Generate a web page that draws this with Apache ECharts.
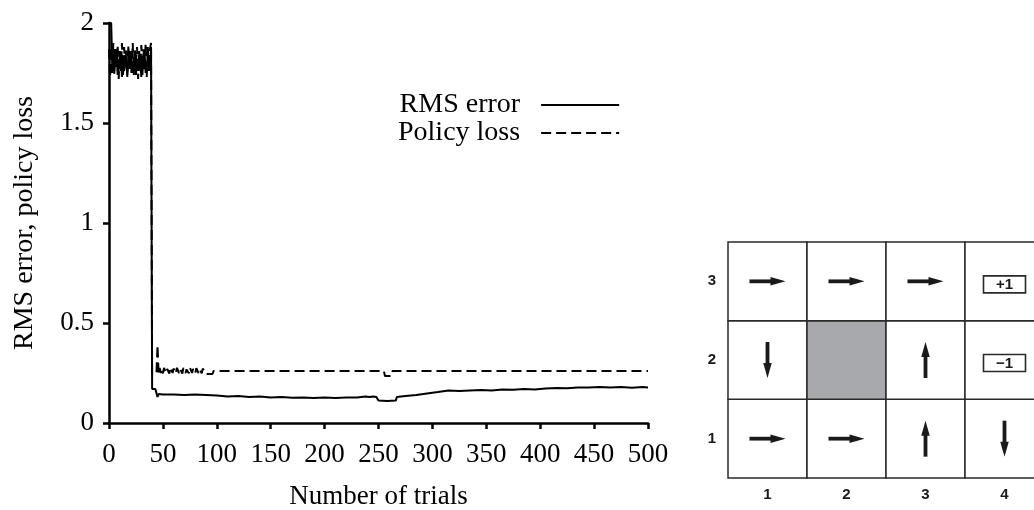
<!DOCTYPE html>
<html>
<head>
<meta charset="utf-8">
<script src="https://cdn.jsdelivr.net/npm/echarts@6/dist/echarts.min.js"></script>
<style>
html,body{margin:0;padding:0;background:#fff;}
#chart{width:1034px;height:510px;}
</style>
</head>
<body>
<div id="chart"></div>
<script>
// ---- learning curve data ----
const rmsTrials = [0,1,2,3,4,5,6,7,8,9,10,11,12,13,14,15,16,17,18,19,20,21,22,23,24,25,26,27,28,29,30,31,32,33,34,35,36,37,38,39,
  40,43,44,45,46,50,60,70,80,90,100,110,120,130,140,150,160,170,180,190,200,210,220,230,238,242,245,248,250,258,266,267,275,285,295,305,315,325,335,345,355,365,375,385,395,405,415,425,435,445,455,465,475,485,495,500];
const rmsValues = [2.0,2.0,2.0,1.80,1.76,1.84,1.78,1.86,1.74,1.82,1.77,1.85,1.73,1.80,1.76,1.84,1.79,1.74,1.83,1.77,1.86,1.75,1.81,1.78,1.85,1.74,1.82,1.76,1.84,1.79,1.73,1.81,1.77,1.85,1.75,1.80,1.78,1.84,1.76,1.88,
  0.17,0.17,0.18,0.13,0.145,0.142,0.143,0.14,0.142,0.14,0.138,0.132,0.135,0.13,0.133,0.128,0.13,0.126,0.128,0.125,0.127,0.125,0.128,0.127,0.132,0.13,0.133,0.13,0.112,0.11,0.112,0.13,0.135,0.14,0.148,0.155,0.163,0.16,0.163,0.165,0.162,0.168,0.166,0.17,0.168,0.172,0.175,0.174,0.178,0.177,0.18,0.178,0.18,0.176,0.18,0.178];

const lossTrials = [0,1,2,3,4,5,6,7,8,9,10,11,12,13,14,15,16,17,18,19,20,21,22,23,24,25,26,27,28,29,30,31,32,33,34,35,36,37,38,39,
  40,42,44,45,46,47,48,49,50,51,53,54,56,57,59,60,62,63,65,66,68,69,71,72,74,75,77,78,80,81,83,84,86,87,90,96,97,255,256,262,263,500];
const lossValues = [1.87,1.73,1.88,1.75,1.90,1.74,1.87,1.79,1.89,1.72,1.86,1.76,1.90,1.74,1.88,1.78,1.87,1.73,1.89,1.77,1.86,1.75,1.90,1.74,1.87,1.79,1.88,1.72,1.86,1.76,1.89,1.74,1.87,1.78,1.90,1.73,1.88,1.76,1.87,1.90,
  0.245,0.245,0.245,0.39,0.245,0.275,0.25,0.27,0.248,0.275,0.25,0.27,0.247,0.278,0.25,0.272,0.248,0.276,0.25,0.27,0.247,0.275,0.25,0.268,0.248,0.277,0.25,0.27,0.248,0.274,0.25,0.268,0.248,0.272,0.245,0.245,0.26,0.26,0.235,0.235,0.26,0.26];

// ---- grid world data ----
const gridCols = ['1','2','3','4'];
const gridRows = ['1','2','3'];
// [column index, row index, direction]
const policyArrows = [
  [0,2,'right'],[1,2,'right'],[2,2,'right'],
  [0,1,'down'],[2,1,'up'],
  [0,0,'right'],[1,0,'right'],[2,0,'up'],[3,0,'down']
];
const wallCells = [[1,1]];
const terminalCells = [[3,2,'+1'],[3,1,'\u22121']];

const rmsData = rmsTrials.map((t,i)=>[t,rmsValues[i]]);
const lossData = lossTrials.map((t,i)=>[t,lossValues[i]]);
const allCells = [];
for (let c=0;c<gridCols.length;c++) for (let r=0;r<gridRows.length;r++) {
  const wall = wallCells.some(w=>w[0]===c&&w[1]===r);
  allCells.push([c,r,wall?1:0]);
}

const serif = 'Liberation Serif';
const sans = 'Liberation Sans';
const chart = echarts.init(document.getElementById('chart'), null, {renderer:'canvas'});

function renderCell(params, api){
  const ctr = api.coord([api.value(0), api.value(1)]);
  const sz = api.size([1,1]);
  return {
    type:'rect',
    shape:{x:ctr[0]-sz[0]/2, y:ctr[1]-sz[1]/2, width:sz[0], height:sz[1]},
    style:{fill: api.value(2) ? '#a7a9ac' : '#ffffff', stroke:'#2a2a2a', lineWidth:1.5}
  };
}
function renderArrow(params, api){
  const ctr = api.coord([api.value(0), api.value(1)]);
  const dir = policyArrows[params.dataIndex][2];
  const L = 36, shaft = 3.8, headL = 15, headW = 8.5;
  const rot = {right:0, up:Math.PI/2, left:Math.PI, down:-Math.PI/2}[dir];
  return {
    type:'group', x:ctr[0], y:ctr[1], rotation:rot,
    children:[
      {type:'rect', shape:{x:-L/2, y:-shaft/2, width:L-headL+1, height:shaft}, style:{fill:'#1a1a1a'}},
      {type:'polygon', shape:{points:[[L/2-headL,-headW/2],[L/2,0],[L/2-headL,headW/2]]}, style:{fill:'#1a1a1a'}}
    ]
  };
}
function renderTerminal(params, api){
  const ctr = api.coord([api.value(0), api.value(1)]);
  const label = terminalCells[params.dataIndex][2];
  const w = 42, h = 17, dy = 3;
  return {
    type:'group', x:ctr[0], y:ctr[1]+dy,
    children:[
      {type:'rect', shape:{x:-w/2, y:-h/2, width:w, height:h}, style:{fill:'#fff', stroke:'#2a2a2a', lineWidth:1.6}},
      {type:'text', style:{text:label, x:0, y:0.5, align:'center', verticalAlign:'middle', font:'bold 15px "Liberation Sans"', fill:'#1a1a1a'}}
    ]
  };
}

chart.setOption({
  animation:false,
  backgroundColor:'#ffffff',
  legend:{
    show:true, orient:'vertical', left:393, top:86, align:'right',
    itemWidth:78, itemHeight:14, itemGap:0,
    data:['RMS error','Policy loss'],
    itemStyle:{color:'rgba(0,0,0,0)', borderWidth:0, opacity:0},
    textStyle:{fontFamily:serif, fontSize:28, color:'#000', padding:[0,16,0,0]}
  },
  grid:[
    {left:109, top:23, width:539, height:400, outerBoundsMode:'none', containLabel:false},
    {left:728, top:242, width:316, height:236, outerBoundsMode:'none', containLabel:false}
  ],
  xAxis:[
    {gridIndex:0, type:'value', min:0, max:500, interval:50,
     name:'Number of trials', nameLocation:'middle', nameGap:60,
     nameTextStyle:{fontFamily:serif, fontSize:27, color:'#000'},
     axisLine:{show:true, onZero:false, lineStyle:{color:'#000', width:2.5}},
     axisTick:{show:true, length:6, lineStyle:{color:'#000', width:2.5}},
     axisLabel:{fontFamily:serif, fontSize:27, color:'#000', margin:18},
     splitLine:{show:false}},
    {gridIndex:1, type:'category', data:gridCols,
     axisLine:{show:false}, axisTick:{show:false},
     axisLabel:{fontFamily:sans, fontWeight:'bold', fontSize:15, color:'#1a1a1a', margin:9},
     splitLine:{show:false}}
  ],
  yAxis:[
    {gridIndex:0, type:'value', min:0, max:2, interval:0.5,
     name:'RMS error, policy loss', nameLocation:'middle', nameGap:70,
     nameTextStyle:{fontFamily:serif, fontSize:28, color:'#000'},
     axisLine:{show:true, onZero:false, lineStyle:{color:'#000', width:2.5}},
     axisTick:{show:true, length:6, lineStyle:{color:'#000', width:2.5}},
     axisLabel:{fontFamily:serif, fontSize:27, color:'#000', margin:15},
     splitLine:{show:false}},
    {gridIndex:1, type:'category', data:gridRows,
     axisLine:{show:false}, axisTick:{show:false},
     axisLabel:{fontFamily:sans, fontWeight:'bold', fontSize:15, color:'#1a1a1a', margin:12},
     splitLine:{show:false}}
  ],
  series:[
    {name:'RMS error', type:'line', xAxisIndex:0, yAxisIndex:0, data:rmsData,
     showSymbol:false, symbol:'none', lineStyle:{color:'#000', width:2}, itemStyle:{color:'#000'}},
    {name:'Policy loss', type:'line', xAxisIndex:0, yAxisIndex:0, data:lossData,
     showSymbol:false, symbol:'none', lineStyle:{color:'#000', width:2, type:[10,5]}, itemStyle:{color:'#000'}},
    {type:'custom', xAxisIndex:1, yAxisIndex:1, data:allCells, renderItem:renderCell, silent:true},
    {type:'custom', xAxisIndex:1, yAxisIndex:1, data:policyArrows.map(a=>[a[0],a[1]]), renderItem:renderArrow, silent:true},
    {type:'custom', xAxisIndex:1, yAxisIndex:1, data:terminalCells.map(a=>[a[0],a[1]]), renderItem:renderTerminal, silent:true}
  ]
});
</script>
</body>
</html>
